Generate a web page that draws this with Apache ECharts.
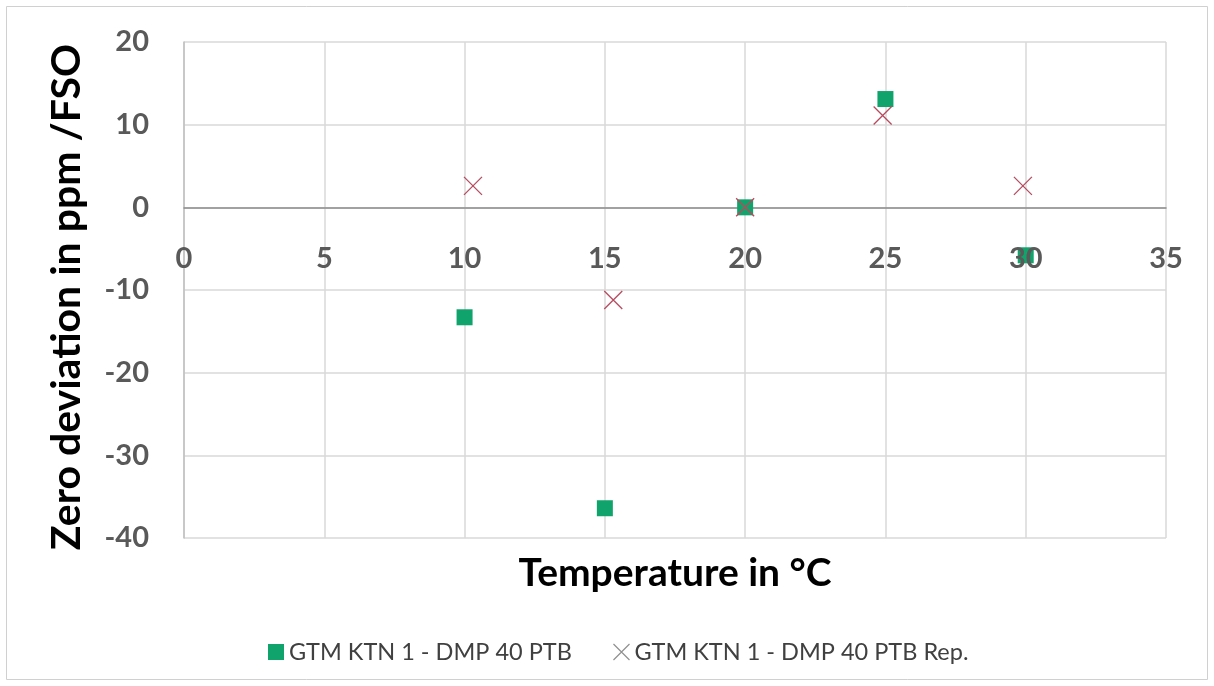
<!DOCTYPE html>
<html>
<head>
<meta charset="utf-8">
<script src="https://cdn.jsdelivr.net/npm/echarts@6/dist/echarts.min.js"></script>
<style>html,body{margin:0;padding:0;background:#fff}#c{width:1214px;height:686px}</style>
</head>
<body>
<div id="c"></div>
<script>
var seriesNames = ['GTM KTN 1 - DMP 40 PTB', 'GTM KTN 1 - DMP 40 PTB Rep.'];
var tempA = [10, 15, 20, 25, 30];
var devA = [-13.3, -36.4, 0, 13.1, -5.8];
var tempB = [10.3, 15.3, 20, 24.9, 29.9];
var devB = [2.6, -11.2, 0, 11.1, 2.6];
var xTitle = 'Temperature in °C';
var yTitle = 'Zero deviation in ppm /FSO';
var xMin = 0, xMax = 35, xStep = 5;
var yMin = -40, yMax = 20, yStep = 10;

var FONT = 'Lato, "Open Sans", sans-serif';
var xPath = 'path://M0,0 L10,10 M10,0 L0,10';
function pairs(xs, ys){ return xs.map(function(x,i){ return [x, ys[i]]; }); }

var H = 686, gridTop = 42, gridBottom = 148;
var plotH = H - gridTop - gridBottom;
// move the x axis (line + labels) up to the y = 0 position
var zeroOffset = plotH * (0 - yMin) / (yMax - yMin);

var chart = echarts.init(document.getElementById('c'));
chart.setOption({
  backgroundColor: '#fff',
  animation: false,
  textStyle: { fontFamily: FONT },
  graphic: [{
    type: 'rect', shape: { x: 6.5, y: 6.5, width: 1201, height: 673 },
    style: { fill: 'none', stroke: '#d0d0d0', lineWidth: 1 }, silent: true
  }],
  grid: { left: 184, right: 48, top: gridTop, bottom: gridBottom, containLabel: false, outerBoundsMode: 'none' },
  legend: {
    bottom: 17, left: 263, itemGap: 41, itemWidth: 16, itemHeight: 16,
    textStyle: { fontFamily: FONT, fontSize: 23.5, color: '#404040' },
    data: [
      { name: seriesNames[0], icon: 'rect', itemStyle: { color: '#10a46c', opacity: 1 } },
      { name: seriesNames[1], icon: xPath, itemStyle: { color: 'transparent', borderColor: '#909090', borderWidth: 1.2, opacity: 1 } }
    ]
  },
  xAxis: [
    {
      type: 'value', min: xMin, max: xMax, interval: xStep,
      offset: -zeroOffset,
      axisLine: { onZero: false, lineStyle: { color: '#8c8c8c', width: 1.5 } },
      axisTick: { show: false },
      axisLabel: { show: false },
      splitLine: { show: true, lineStyle: { color: '#d9d9d9', width: 1.5 } }
    },
    {
      type: 'value', min: xMin, max: xMax, interval: xStep, z: 5,
      position: 'bottom', offset: -zeroOffset,
      name: xTitle, nameLocation: 'middle', nameGap: zeroOffset + 16, nameMoveOverlap: false,
      nameTextStyle: { fontFamily: FONT, fontSize: 39, fontWeight: 'bold', color: '#000' },
      axisLine: { show: false, onZero: false },
      axisTick: { show: false },
      axisLabel: { margin: 37, fontFamily: FONT, fontSize: 29, fontWeight: 'bold', color: '#595959' },
      splitLine: { show: false }
    }
  ],
  yAxis: {
    type: 'value', min: yMin, max: yMax, interval: yStep,
    name: yTitle, nameLocation: 'middle', nameGap: 97, nameMoveOverlap: false,
    nameTextStyle: { fontFamily: FONT, fontSize: 41, fontWeight: 'bold', color: '#000', padding: [0, 14, 0, 0] },
    axisLine: { show: true, onZero: false, lineStyle: { color: '#bfbfbf', width: 1.5 } },
    axisTick: { show: false },
    axisLabel: { margin: 35, fontFamily: FONT, fontSize: 29, fontWeight: 'bold', color: '#595959' },
    splitLine: { show: true, lineStyle: { color: '#d9d9d9', width: 1.5 } }
  },
  series: [
    {
      name: seriesNames[0], type: 'scatter', z: 2, xAxisIndex: 0,
      symbol: 'rect', symbolSize: 16,
      itemStyle: { color: '#10a46c', opacity: 1 },
      data: pairs(tempA, devA)
    },
    {
      name: seriesNames[1], type: 'scatter', z: 3, xAxisIndex: 0,
      symbol: xPath, symbolSize: 18,
      itemStyle: { color: 'transparent', borderColor: '#b84a5e', borderWidth: 1.3, opacity: 1 },
      data: pairs(tempB, devB)
    }
  ]
});
</script>
</body>
</html>
